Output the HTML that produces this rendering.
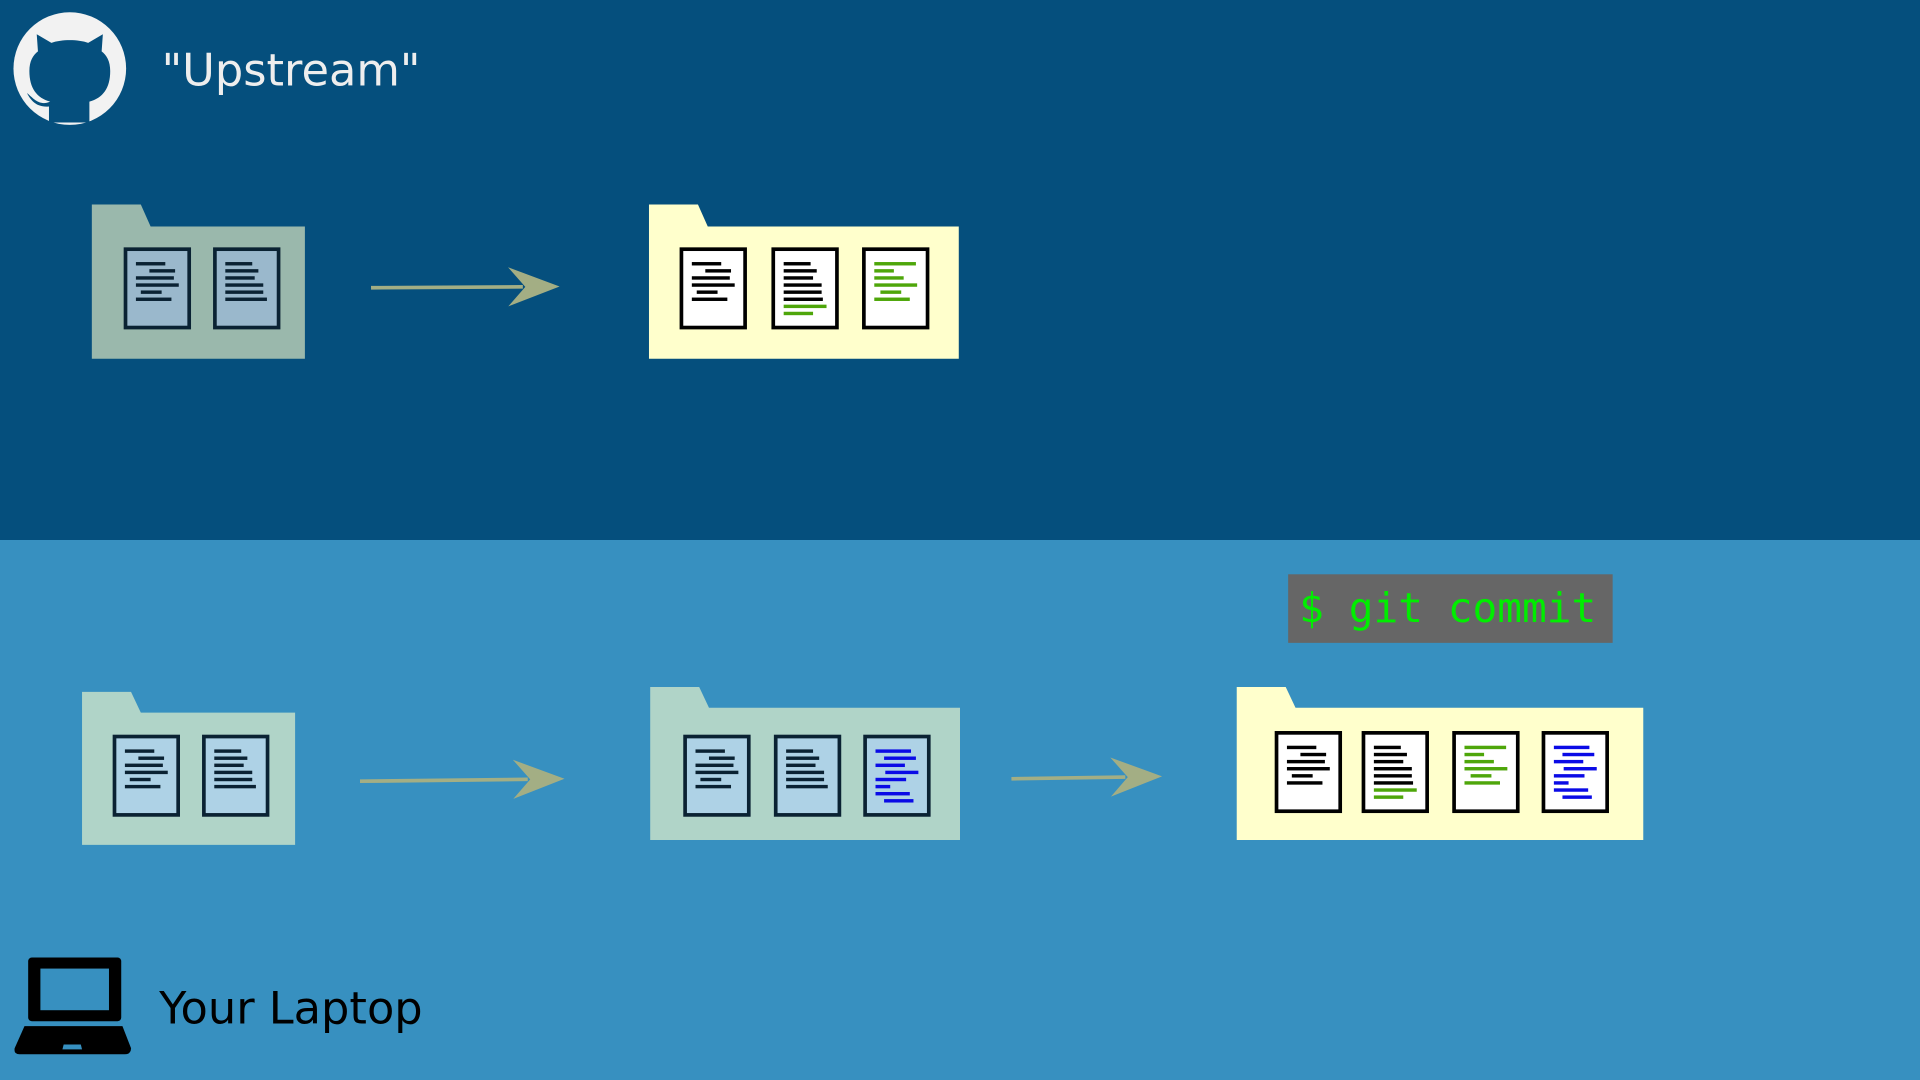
<!DOCTYPE html>
<html><head><meta charset="utf-8"><style>
html,body{margin:0;padding:0;width:1920px;height:1080px;overflow:hidden;background:#3790c0}
svg{display:block}
</style></head><body>
<svg id="s" width="1920" height="1080" viewBox="0 0 1568 882" xmlns="http://www.w3.org/2000/svg">
<rect x="0" y="0" width="1568" height="441" fill="#054f7d"/>
<rect x="0" y="441" width="1568" height="441" fill="#3790c0"/>
<g>
<circle cx="57" cy="56" r="46" fill="#f2f2f2"/>
<path d="M40,100 L40,87 C30,88 25,82 22,76 C27,80 32,87 41,83 C30,80 24,72 24,58 C24,50 27,45 31,42 L30,28 L42,35 C50,32 64,32 72,35 L84,28 L83,42 C87,45 90,50 90,58 C90,72 84,80 73,83 L73,100 Z" fill="#054f7d"/>
</g>
<text x="132" y="70" font-family="'DejaVu Sans','Liberation Sans',sans-serif" font-size="36.5" fill="#eeeeee">"Upstream"</text>
<g>
<rect x="23" y="782" width="76" height="52" rx="3" fill="#000"/>
<rect x="33" y="791" width="56" height="34" fill="#3790c0"/>
<path d="M20,838 L100,838 L107,856 Q107,861 102,861 L16,861 Q11,861 12,856 Z" fill="#000"/>
<path d="M52,853 L66,853 L67,857 L51,857 Z" fill="#3790c0"/>
</g>
<text x="130" y="836" font-family="'DejaVu Sans','Liberation Sans',sans-serif" font-size="36.5" fill="#000">Your Laptop</text>
<rect x="1052" y="469" width="265" height="56" fill="#666666"/>
<text x="1061" y="508" font-family="'DejaVu Sans Mono','Liberation Mono',monospace" font-size="33.6" fill="#00ee00">$ git commit</text>
<g id="g"></g>
</svg>
<script>
const folders=[
 {name:'upstream-folder-old',x:75,y:185,w:174,h:108,tab:167,fill:'#9ab8ac',docs:[[101,202,'a','old'],[174,202,'b','old']]},
 {name:'upstream-folder-new',x:530,y:185,w:253,h:108,tab:167,fill:'#ffffcc',docs:[[555,202,'a','new'],[630,202,'bg','new'],[704,202,'g','new']]},
 {name:'laptop-folder-old',x:67,y:582,w:174,h:108,tab:565,fill:'#b0d4c8',docs:[[92,600,'a','lo'],[165,600,'b','lo']]},
 {name:'laptop-folder-edited',x:531,y:578,w:253,h:108,tab:561,fill:'#b0d4c8',docs:[[558,600,'a','lo'],[632,600,'b','lo'],[705,600,'u','lo']]},
 {name:'laptop-folder-committed',x:1010,y:578,w:332,h:108,tab:561,fill:'#ffffcc',docs:[[1041,597,'a','new'],[1112,597,'bg','new'],[1186,597,'g','new'],[1259,597,'u','new']]}
];
const arrows=[[303,235,457,234],[294,638,461,636],[826,636,949,634]];
const lines={
 a:[[0,24,'k'],[11,21,'k'],[0,31,'k'],[0,35,'k'],[4,17,'k'],[0,29,'k']],
 b:[[0,22,'k'],[0,27,'k'],[0,24,'k'],[0,31,'k'],[0,31,'k'],[0,34,'k']],
 bg:[[0,22,'k'],[0,27,'k'],[0,24,'k'],[0,31,'k'],[0,31,'k'],[0,32,'k'],[0,35,'g'],[0,24,'g']],
 g:[[0,34,'g'],[0,16,'g'],[0,24,'g'],[0,35,'g'],[5,17,'g'],[0,29,'g']],
 u:[[0,29,'u'],[7,26,'u'],[0,24,'u'],[8,27,'u'],[0,25,'u'],[0,12,'u'],[0,28,'u'],[7,24,'u']]
};
const NS='http://www.w3.org/2000/svg';
const g=document.getElementById('g');
function mk(t,a,p){const e=document.createElementNS(NS,t);for(const k in a)e.setAttribute(k,a[k]);(p||g).appendChild(e);return e;}
arrows.forEach((a,i)=>{
 const gr=mk('g',{});
 
 
 const ang=Math.atan2(a[3]-a[1],a[2]-a[0]);
 const bx=a[2]-38*Math.cos(ang),by=a[3]-38*Math.sin(ang);
 mk('line',{x1:a[0],y1:a[1],x2:bx+8,y2:by,stroke:'#a3ae84','stroke-width':3},gr);
 const px=-Math.sin(ang),py=Math.cos(ang);
 mk('path',{d:`M${a[2]},${a[3]} L${bx+px*16-4},${by+py*16} L${bx+10},${by} L${bx-px*16-4},${by-py*16} Z`,fill:'#a3ae84'},gr);
});
const col={k:'#000',g:'#4ea60a',u:'#0a0ae6'};
folders.forEach(f=>{
 const gr=mk('g',{});
 
 
 mk('path',{d:`M${f.x},${f.y+1} L${f.x},${f.tab} L${f.x+40},${f.tab} L${f.x+48},${f.y} L${f.x+f.w},${f.y} L${f.x+f.w},${f.y+f.h} L${f.x},${f.y+f.h} Z`,fill:f.fill},gr);
 f.docs.forEach((d,j)=>{
  const dg=mk('g',{},gr);
  
  
  const old=d[3]!=='new';
  const bg=d[3]==='old'?'#9ab8cc':(d[3]==='lo'?'#aed2e6':'#fff');
  const st=old?'#0a2233':'#000';
  mk('rect',{x:d[0]+1.5,y:d[1]+1.5,width:52,height:64,fill:bg,stroke:st,'stroke-width':3},dg);
  lines[d[2]].forEach((l,k)=>{
   const c=l[2]==='k'?(old?'#0a2233':'#000'):col[l[2]];
   mk('rect',{x:d[0]+10+l[0],y:d[1]+12+k*5.8,width:l[1],height:2.8,fill:c},dg);
  });
 });
});
</script>
</body></html>
